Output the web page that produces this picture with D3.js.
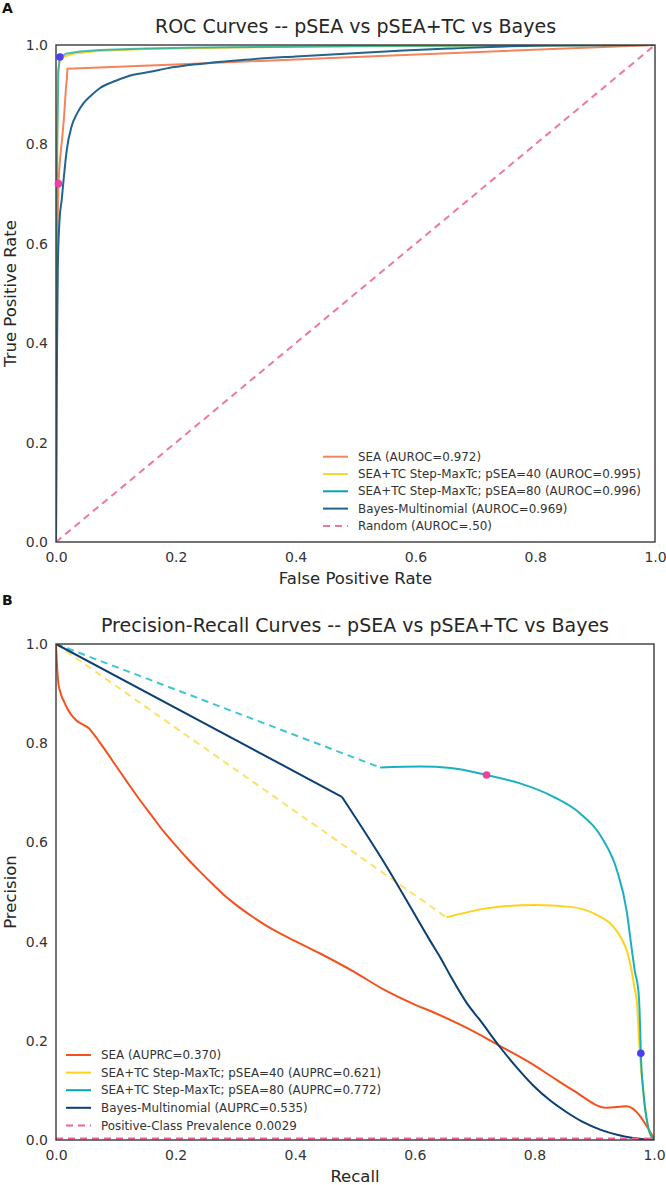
<!DOCTYPE html>
<html>
<head>
<meta charset="utf-8">
<script src="https://cdn.jsdelivr.net/npm/d3@7"></script>
<style>
  html, body { margin: 0; padding: 0; background: #fff; }
  svg { display: block; font-family: "DejaVu Sans", sans-serif; }
</style>
</head>
<body>
<svg id="chart" width="666" height="1185"></svg>
<script>
// ---------------- DATA ----------------
const tickValues = [0.0, 0.2, 0.4, 0.6, 0.8, 1.0];

// ROC panel (x = false positive rate, y = true positive rate)
const rocSEA = [[0,0],[0.001,0.3],[0.002,0.6],[0.004,0.721],[0.006,0.76],[0.0083,0.789],[0.011,0.82],[0.0134,0.855],[0.0167,0.915],[0.018,0.93],[0.019,0.952],[0.157,0.959],[0.24,0.963],[0.5,0.976],[1,1]];
const rocSEA40 = [[0,0],[0.001,0.5],[0.002,0.8],[0.003,0.94],[0.006,0.968],[0.012,0.976],[0.03,0.983],[0.07,0.988],[0.15,0.992],[0.3,0.995],[0.6,0.998],[1,1]];
const rocSEA80 = [[0,0],[0.001,0.5],[0.002,0.8],[0.004,0.95],[0.0065,0.976],[0.018,0.983],[0.04,0.987],[0.073,0.99],[0.15,0.993],[0.24,0.995],[0.5,0.998],[1,1]];
const rocBayes = [[0,0],[0.001,0.3],[0.003,0.55],[0.006,0.65],[0.0095,0.688],[0.012,0.72],[0.018,0.789],[0.026,0.836],[0.035,0.862],[0.046,0.883],[0.06,0.9],[0.073,0.913],[0.1,0.928],[0.129,0.94],[0.157,0.946],[0.185,0.953],[0.24,0.962],[0.3,0.969],[0.4,0.977],[0.49,0.983],[0.58,0.989],[0.66,0.993],[0.75,0.997],[0.82,0.999],[1,1]];
const rocRandom = [[0,0],[1,1]];
const rocMarkers = [{x:0.0065, y:0.976, c:"blue"},{x:0.004, y:0.721, c:"pink"}];
const rocLabels = ["SEA (AUROC=0.972)","SEA+TC Step-MaxTc; pSEA=40 (AUROC=0.995)","SEA+TC Step-MaxTc; pSEA=80 (AUROC=0.996)","Bayes-Multinomial (AUROC=0.969)","Random (AUROC=.50)"];

// PR panel (x = recall, y = precision)
const prSEA = [[0,1.0],[0.002,0.95],[0.004,0.92],[0.0067,0.905],[0.0095,0.894],[0.013,0.885],[0.018,0.872],[0.025,0.858],[0.035,0.845],[0.046,0.837],[0.055,0.83],[0.062,0.82],[0.08,0.79],[0.1,0.755],[0.12,0.72],[0.14,0.686],[0.16,0.654],[0.18,0.622],[0.2,0.594],[0.22,0.567],[0.24,0.542],[0.26,0.518],[0.28,0.495],[0.3,0.475],[0.33,0.449],[0.36,0.426],[0.4,0.401],[0.44,0.377],[0.5,0.338],[0.55,0.302],[0.6,0.273],[0.63,0.258],[0.687,0.226],[0.742,0.19],[0.798,0.152],[0.826,0.13],[0.865,0.1],[0.921,0.065],[0.954,0.068],[1,0.003]];
const prSEA40Gap = [[0,1],[0.653,0.449]];
const prSEA40 = [[0.653,0.449],[0.72,0.467],[0.8,0.474],[0.86,0.47],[0.904,0.454],[0.932,0.43],[0.946,0.405],[0.955,0.38],[0.962,0.345],[0.967,0.31],[0.972,0.27],[0.975,0.2],[0.978,0.15],[0.982,0.1],[0.99,0.027],[0.998,0.003]];
const prSEA80Gap = [[0,1],[0.542,0.751]];
const prSEA80 = [[0.542,0.751],[0.609,0.753],[0.66,0.75],[0.72,0.736],[0.776,0.719],[0.832,0.692],[0.876,0.659],[0.915,0.605],[0.938,0.544],[0.954,0.464],[0.963,0.383],[0.968,0.34],[0.974,0.3],[0.977,0.22],[0.978,0.175],[0.982,0.1],[0.99,0.027],[0.998,0.003]];
const prBayesHead = [[0,1],[0.478,0.692]];
const prBayes = [[0.478,0.692],[0.553,0.551],[0.625,0.403],[0.645,0.363],[0.66,0.33],[0.687,0.276],[0.71,0.24],[0.742,0.188],[0.77,0.147],[0.798,0.11],[0.826,0.08],[0.854,0.056],[0.88,0.037],[0.91,0.021],[0.94,0.01],[0.965,0.004],[0.99,0.001],[1,0]];
const prPrevalence = [[0,0.0029],[1,0.0029]];
const prMarkers = [{x:0.72, y:0.736, c:"pink"},{x:0.978, y:0.175, c:"blue"}];
const prLabels = ["SEA (AUPRC=0.370)","SEA+TC Step-MaxTc; pSEA=40 (AUPRC=0.621)","SEA+TC Step-MaxTc; pSEA=80 (AUPRC=0.772)","Bayes-Multinomial (AUPRC=0.535)","Positive-Class Prevalence 0.0029"];

// ---------------- STYLE ----------------
const markerColor = {blue:"#4b3df0", pink:"#ee3f9f"};
const txt = "#262626";
const svg = d3.select("#chart");

function panel(cfg) {
  const x = d3.scaleLinear().domain([0,1]).range([cfg.left, cfg.right]);
  const y = d3.scaleLinear().domain([0,1]).range([cfg.bottom, cfg.top]);
  const g = svg.append("g");
  const clipId = "clip" + cfg.id;
  svg.append("clipPath").attr("id", clipId).append("rect")
    .attr("x", cfg.left).attr("y", cfg.top)
    .attr("width", cfg.right - cfg.left).attr("height", cfg.bottom - cfg.top);

  g.append("text").attr("x", 2).attr("y", cfg.letterY).attr("font-size", 14)
    .attr("font-weight", "bold").attr("fill", "#111").text(cfg.letter);
  g.append("text").attr("x", (cfg.left + cfg.right) / 2).attr("y", cfg.top - 12)
    .attr("text-anchor", "middle").attr("font-size", 19).attr("fill", txt).text(cfg.title);

  const lg = g.append("g").attr("clip-path", `url(#${clipId})`);
  cfg.series.forEach(s => {
    const line = d3.line().x(d => x(d[0])).y(d => y(d[1]))
      .curve(s.smooth ? d3.curveMonotoneX : d3.curveLinear);
    lg.append("path").datum(s.data).attr("d", line)
      .attr("fill", "none").attr("stroke", s.color).attr("stroke-width", 2)
      .attr("stroke-opacity", s.opacity || 1)
      .attr("stroke-dasharray", s.dash ? "7,5" : null)
      .attr("stroke-linejoin", "round");
  });

  g.append("rect").attr("x", cfg.left).attr("y", cfg.top)
    .attr("width", cfg.right - cfg.left).attr("height", cfg.bottom - cfg.top)
    .attr("fill", "none").attr("stroke", "#3a3a3a").attr("stroke-width", 1.4);

  g.selectAll(".mk").data(cfg.markers).enter().append("circle")
    .attr("cx", d => x(d.x)).attr("cy", d => y(d.y)).attr("r", 3.8)
    .attr("fill", d => markerColor[d.c]);

  const xa = g.append("g").attr("transform", `translate(0,${cfg.bottom})`)
    .call(d3.axisBottom(x).tickValues(tickValues).tickFormat(d3.format(".1f")).tickSize(0).tickPadding(10));
  const ya = g.append("g").attr("transform", `translate(${cfg.left},0)`)
    .call(d3.axisLeft(y).tickValues(tickValues).tickFormat(d3.format(".1f")).tickSize(0).tickPadding(8));
  [xa, ya].forEach(a => {
    a.select(".domain").remove();
    a.selectAll("text").attr("font-size", 14).attr("fill", "#333").attr("font-family", "DejaVu Sans");
  });

  g.append("text").attr("x", (cfg.left + cfg.right) / 2).attr("y", cfg.bottom + 42)
    .attr("text-anchor", "middle").attr("font-size", 16.5).attr("fill", txt).text(cfg.xLabel);
  g.append("text").attr("transform", `translate(16,${(cfg.top + cfg.bottom) / 2}) rotate(-90)`)
    .attr("text-anchor", "middle").attr("font-size", 16.5).attr("fill", txt).text(cfg.yLabel);

  const lgd = g.append("g");
  cfg.series.filter(s => s.label).forEach((s, i) => {
    const yy = cfg.legY + i * cfg.legStep;
    lgd.append("line").attr("x1", cfg.legX).attr("x2", cfg.legX + 25).attr("y1", yy).attr("y2", yy)
      .attr("stroke", s.color).attr("stroke-width", 2)
      .attr("stroke-dasharray", s.dash ? "7,5" : null);
    lgd.append("text").attr("x", cfg.legX + 35).attr("y", yy).attr("dy", "0.35em")
      .attr("font-size", 11.9).attr("fill", "#333").text(s.label);
  });
}

panel({
  id: "A", letter: "A", letterY: 13,
  title: "ROC Curves -- pSEA vs pSEA+TC vs Bayes",
  left: 56, right: 655, top: 45, bottom: 542,
  xLabel: "False Positive Rate", yLabel: "True Positive Rate",
  legX: 323, legY: 456.7, legStep: 17.3,
  series: [
    {data: rocSEA, color: "#f4845c", label: rocLabels[0]},
    {data: rocSEA40, color: "#fbd533", label: rocLabels[1]},
    {data: rocSEA80, color: "#00a5b5", opacity: 0.72, label: rocLabels[2]},
    {data: rocBayes, color: "#22638f", smooth: true, label: rocLabels[3]},
    {data: rocRandom, color: "#f0779f", dash: true, label: rocLabels[4]}
  ],
  markers: rocMarkers
});

panel({
  id: "B", letter: "B", letterY: 605,
  title: "Precision-Recall Curves -- pSEA vs pSEA+TC vs Bayes",
  left: 56, right: 654, top: 644, bottom: 1140,
  xLabel: "Recall", yLabel: "Precision",
  legX: 66, legY: 1055, legStep: 17.6,
  series: [
    {data: prSEA, color: "#f4511e", smooth: true, label: prLabels[0]},
    {data: prSEA40Gap, color: "#fde06a", dash: true},
    {data: prSEA40, color: "#fdd21a", smooth: true, label: prLabels[1]},
    {data: prSEA80Gap, color: "#3cc6d2", dash: true},
    {data: prSEA80, color: "#00a9b8", opacity: 0.9, smooth: true, label: prLabels[2]},
    {data: prBayesHead, color: "#0b3f73"},
    {data: prBayes, color: "#0b3f73", smooth: true, label: prLabels[3]},
    {data: prPrevalence, color: "#f06292", dash: true, label: prLabels[4]}
  ],
  markers: prMarkers
});
</script>
</body>
</html>
